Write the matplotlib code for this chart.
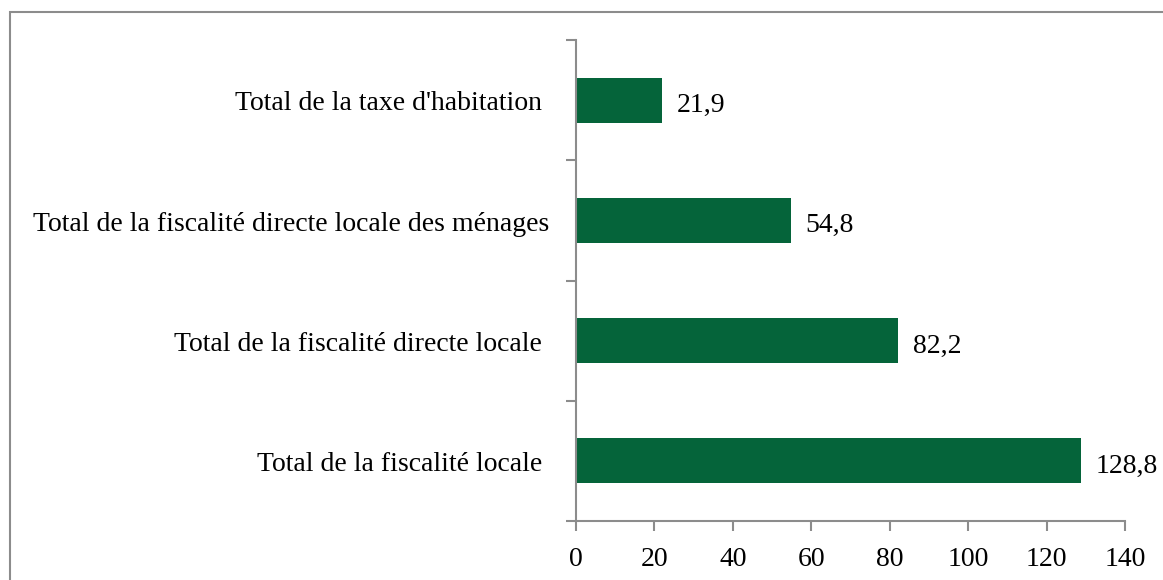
import matplotlib.pyplot as plt
from matplotlib.patches import Rectangle

categories = ["Total de la fiscalité locale ",
              "Total de la fiscalité directe locale ",
              "Total de la fiscalité directe locale des ménages",
              "Total de la taxe d'habitation "]
values = [128.8, 82.2, 54.8, 21.9]
value_labels = ["128,8", "82,2", "54,8", "21,9"]
xticks = [0, 20, 40, 60, 80, 100, 120, 140]

plt.rcParams['font.family'] = ['Liberation Serif', 'DejaVu Serif']
W, H = 1163, 580
fig = plt.figure(figsize=(W / 100, H / 100), dpi=100)
axw = 1125 - 576
ax = fig.add_axes([576 / W, 1 - 521 / H, axw / W, (521 - 40) / H])

grey = '#8c8c8c'
green = '#05643a'
fs = 20
pos = range(len(categories))
ax.barh(pos, values, height=0.375, color=green)
for p, v, lab in zip(pos, values, value_labels):
    ax.text(v + 3.8, p - 0.1, lab, va='baseline', ha='left', fontsize=fs)

# category labels drawn as text so the baseline can be placed
ytr = ax.get_yaxis_transform()
for p, cat in zip(pos, categories):
    ax.text(-27 / axw, p - 0.085, cat, transform=ytr, va='baseline', ha='right',
            fontsize=fs)

ax.set_xlim(0, 140)
ax.set_ylim(-0.5, 3.5)
ax.set_xticks(xticks)
ax.set_xticklabels([str(t) for t in xticks], fontsize=fs)
ax.set_yticks([-0.5, 0.5, 1.5, 2.5, 3.5])
ax.set_yticklabels([])
ax.tick_params(axis='y', length=7, color=grey, width=1.5)
ax.tick_params(axis='x', length=7, color=grey, width=1.5, pad=12)
for s in ['top', 'right']:
    ax.spines[s].set_visible(False)
for s in ['left', 'bottom']:
    ax.spines[s].set_color(grey)
    ax.spines[s].set_linewidth(1.5)

fig.patches.append(Rectangle((10 / W, -0.1), 1.2, 1 - 12 / H + 0.1,
                             transform=fig.transFigure, fill=False,
                             edgecolor=grey, linewidth=1.5))

fig.savefig('out.png', dpi=100)
